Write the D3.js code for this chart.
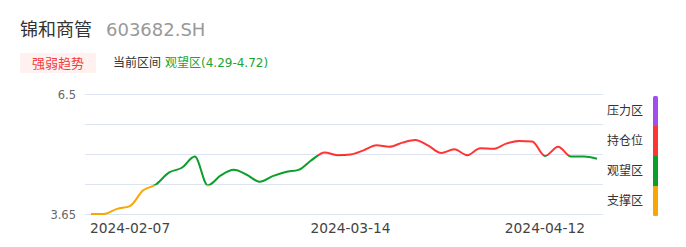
<!DOCTYPE html>
<html><head><meta charset="utf-8">
<script src="https://cdn.jsdelivr.net/npm/d3@7"></script>
<style>
html,body{margin:0;padding:0;background:#fff;}
svg{display:block;font-family:"DejaVu Sans","Noto Sans CJK SC",sans-serif;}
.cjk{font-family:"Noto Sans CJK SC","DejaVu Sans",sans-serif;}
</style></head>
<body>
<svg id="c" width="686" height="247"></svg>
<script>
const stockName = "锦和商管";
const stockCode = "603682.SH";
const badgeText = "强弱趋势";
const currentLabel = "当前区间";
const currentZone = "观望区(4.29-4.72)";

const dates = ["2024-02-07","2024-02-08","2024-02-19","2024-02-20","2024-02-21","2024-02-22","2024-02-23",
"2024-02-26","2024-02-27","2024-02-28","2024-02-29","2024-03-01","2024-03-04","2024-03-05","2024-03-06",
"2024-03-07","2024-03-08","2024-03-11","2024-03-12","2024-03-13","2024-03-14","2024-03-15","2024-03-18",
"2024-03-19","2024-03-20","2024-03-21","2024-03-22","2024-03-25","2024-03-26","2024-03-27","2024-03-28",
"2024-03-29","2024-04-01","2024-04-02","2024-04-03","2024-04-08","2024-04-09","2024-04-10","2024-04-11","2024-04-12"];
const prices = [3.66,3.66,3.77,3.83,4.16,4.29,4.46,4.53,4.69,4.27,4.42,4.50,4.43,4.33,4.41,4.47,4.50,4.64,4.76,4.71,
4.72,4.80,4.90,4.87,4.95,5.00,4.89,4.75,4.82,4.71,4.84,4.83,4.93,4.98,4.97,4.70,4.87,4.69,4.69,4.66];

// zone boundaries (bottom to top)
const zoneBounds = [3.65, 4.29, 4.72, 5.30, 6.5];
const zoneNames = ["支撑区","观望区","持仓位","压力区"];
const zoneColors = ["#F9A602","#0A9E2B","#FF3434","#A04EEE"];
const yTickLabels = ["3.65","6.5"];
const xTickIdx = [0, 20, 39];

(function(){
const svg = d3.select("#c");
const plotTop = 94.5, plotBottom = 214.5;
const step = (plotBottom - plotTop) / (zoneBounds.length - 1);
const y = d3.scaleLinear().domain(zoneBounds).range(zoneBounds.map((d,i)=>plotBottom - i*step));
const x = d3.scalePoint().domain(dates).range([91, 597]);

// Header
svg.append("text").attr("class","cjk").attr("x",20).attr("y",36).attr("font-size",18).attr("fill","#333").text(stockName);
svg.append("text").attr("x",106).attr("y",36).attr("font-size",18).attr("fill","#999").text(stockCode);
svg.append("rect").attr("x",20).attr("y",53).attr("width",76).attr("height",20).attr("fill","#FFF1EF");
svg.append("text").attr("class","cjk").attr("x",58).attr("y",67.5).attr("text-anchor","middle").attr("font-size",13).attr("fill","#F53C3C").text(badgeText);
svg.append("text").attr("class","cjk").attr("x",113).attr("y",67).attr("font-size",12).attr("fill","#333").text(currentLabel);
svg.append("text").attr("x",165).attr("y",67).attr("font-size",12).attr("fill","#19A532").text(currentZone);

// Gridlines
svg.append("g").selectAll("line").data(zoneBounds).join("line")
  .attr("x1",85).attr("x2",603).attr("y1",d=>y(d)).attr("y2",d=>y(d))
  .attr("stroke","#DDE3F0").attr("stroke-width",1);

// Y labels
svg.append("g").selectAll("text").data(yTickLabels).join("text")
  .attr("x",76).attr("y",d=>y(+d)).attr("dy","0.35em").attr("text-anchor","end")
  .attr("font-size",11.5).attr("fill","#666").text(d=>d);

// X labels
const anchors = ["start","middle","end"];
const offs = [-1, 0, -12];
svg.append("g").selectAll("text").data(xTickIdx).join("text")
  .attr("x",(d,i)=>x(dates[d]) + offs[i]).attr("y",233)
  .attr("text-anchor",(d,i)=>anchors[i])
  .attr("font-size",13.8).attr("fill","#444").text(d=>dates[d]);

// Gradient for line by zone
const defs = svg.append("defs");
const grad = defs.append("linearGradient").attr("id","lg").attr("gradientUnits","userSpaceOnUse")
  .attr("x1",0).attr("x2",0).attr("y1",y(zoneBounds[0])).attr("y2",y(zoneBounds[zoneBounds.length-1]));
for (let k=0;k<zoneColors.length;k++){
  const a = k/zoneColors.length, b=(k+1)/zoneColors.length;
  grad.append("stop").attr("offset",a).attr("stop-color",zoneColors[k]);
  grad.append("stop").attr("offset",b).attr("stop-color",zoneColors[k]);
}
const line = d3.line().x((d,i)=>x(dates[i])).y(d=>y(d)).curve(d3.curveMonotoneX);
svg.append("path").datum(prices).attr("d",line).attr("fill","none")
  .attr("stroke","url(#lg)").attr("stroke-width",2).attr("stroke-linejoin","round");

// Legend
const lg = svg.append("g");
defs.append("clipPath").attr("id","barclip").append("rect")
  .attr("x",653).attr("width",5).attr("y",y(zoneBounds[zoneBounds.length-1])+1.5)
  .attr("height",y(zoneBounds[0])-y(zoneBounds[zoneBounds.length-1])).attr("rx",1.5);
const bars = lg.append("g").attr("clip-path","url(#barclip)");
bars.selectAll("rect").data(zoneNames).join("rect")
  .attr("x",653).attr("width",5)
  .attr("y",(d,i)=>y(zoneBounds[i+1])+1.5).attr("height",(d,i)=>y(zoneBounds[i])-y(zoneBounds[i+1]))
  .attr("fill",(d,i)=>zoneColors[i]);
lg.selectAll("text").data(zoneNames).join("text").attr("class","cjk")
  .attr("x",607).attr("y",(d,i)=>(y(zoneBounds[i])+y(zoneBounds[i+1]))/2 + 1.5)
  .attr("dy","0.35em").attr("font-size",12).attr("fill","#333").text(d=>d);
})();
</script>
</body></html>
